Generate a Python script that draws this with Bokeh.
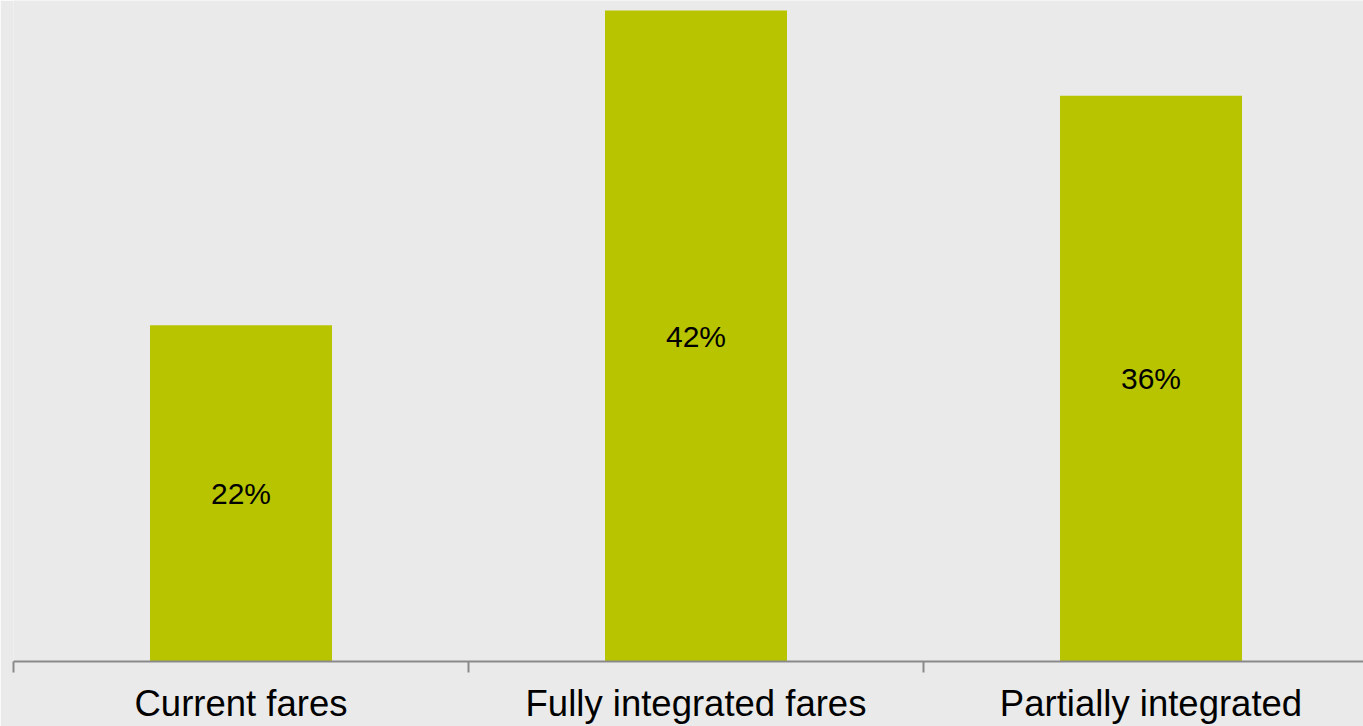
from bokeh.plotting import figure
from bokeh.models import Range1d, FixedTicker, ColumnDataSource
from bokeh.core.properties import value
from bokeh.embed import file_html
from bokeh.resources import INLINE

categories = ["Current fares", "Fully integrated fares", "Partially integrated"]
shares = [21.7, 42.0, 36.5]
share_labels = ["22%", "42%", "36%"]

BG = "#EAEAEA"
BAR = "#B8C400"

xs = [i + 0.5 for i in range(len(categories))]
src = ColumnDataSource(dict(x=xs, top=shares, mid=[s / 2 for s in shares], lab=share_labels))

p = figure(width=1363, height=726, output_backend="svg", toolbar_location=None,
           x_range=Range1d(0, 2.967), y_range=Range1d(0, 42.65),
           min_border_left=13, min_border_right=0, min_border_top=0, min_border_bottom=65)
p.background_fill_color = BG
p.border_fill_color = BG
p.outline_line_color = None
p.grid.visible = False
p.yaxis.visible = False

p.vbar(x="x", top="top", bottom=0, width=0.4, source=src, fill_color=BAR, line_color=None)
p.text(x="x", y="mid", text="lab", source=src, text_align="center", text_baseline="middle",
       text_font=value("Liberation Sans"), text_font_size="30px", text_color="black")

ax = p.xaxis[0]
ax.ticker = FixedTicker(ticks=xs, minor_ticks=[0, 1, 2, 3])
ax.major_label_overrides = {x: c for x, c in zip(xs, categories)}
ax.major_tick_line_color = None
ax.major_tick_out = 0
ax.major_tick_in = 0
ax.minor_tick_out = 11
ax.minor_tick_in = 0
ax.minor_tick_line_color = "#8A8A8A"
ax.minor_tick_line_width = 2
ax.axis_line_color = "#8A8A8A"
ax.axis_line_width = 2
ax.major_label_text_font = "Liberation Sans"
ax.major_label_text_font_size = "36.5px"
ax.major_label_text_color = "black"
ax.major_label_standoff = 10

open("out.html", "w").write(file_html(p, INLINE))
